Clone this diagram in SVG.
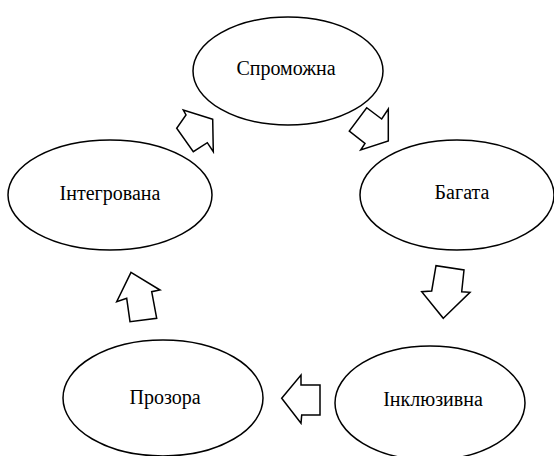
<svg xmlns="http://www.w3.org/2000/svg" width="554" height="456" viewBox="0 0 554 456">
<style>
ellipse.e{fill:#fff;stroke:#000;stroke-width:1.5}
text.t{font-family:"Liberation Serif","Times New Roman",serif;font-size:20px;text-anchor:middle;fill:#000}
.c polygon{fill:#fff;stroke:#000;stroke-width:1.5;stroke-linejoin:miter}
</style>
<rect width="554" height="456" fill="#fff"/>
<g id="n1"><ellipse class="e" cx="288" cy="71" rx="95" ry="54"/><text class="t" x="286" y="75">Спроможна</text></g>
<g id="n2"><ellipse class="e" cx="457" cy="195" rx="97" ry="55"/><text class="t" x="462" y="199">Багата</text></g>
<g id="n3"><ellipse class="e" cx="430" cy="403" rx="95" ry="57"/><text class="t" x="433" y="406">Інклюзивна</text></g>
<g id="n4"><ellipse class="e" cx="163" cy="398" rx="100" ry="58"/><text class="t" x="165" y="404">Прозора</text></g>
<g id="n5"><ellipse class="e" cx="110" cy="195" rx="102" ry="55"/><text class="t" x="110" y="200">Інтегрована</text></g>
<g id="connectors" class="c">
<polygon points="388.3,141 388.3,109 381.7,119 366.7,107.7 349.3,131 365,143.3 360.7,150"/>
<polygon points="443.3,318.3 470,292.3 461.7,291.7 464,270 436,265.7 431.7,291 421.7,291.7"/>
<polygon points="281.7,398.3 301,375 301,385 320,385 320,415 301.7,415 301,423.3"/>
<polygon points="131,272.3 160,290 151.7,291.7 156.7,318.3 130,321.7 126.7,298.3 116.7,301.7"/>
<polygon points="212.7,119.3 183.3,110 186,115 176.7,128.3 193.3,151.7 207.3,142.7 213.3,151.7"/>
</g>
</svg>
